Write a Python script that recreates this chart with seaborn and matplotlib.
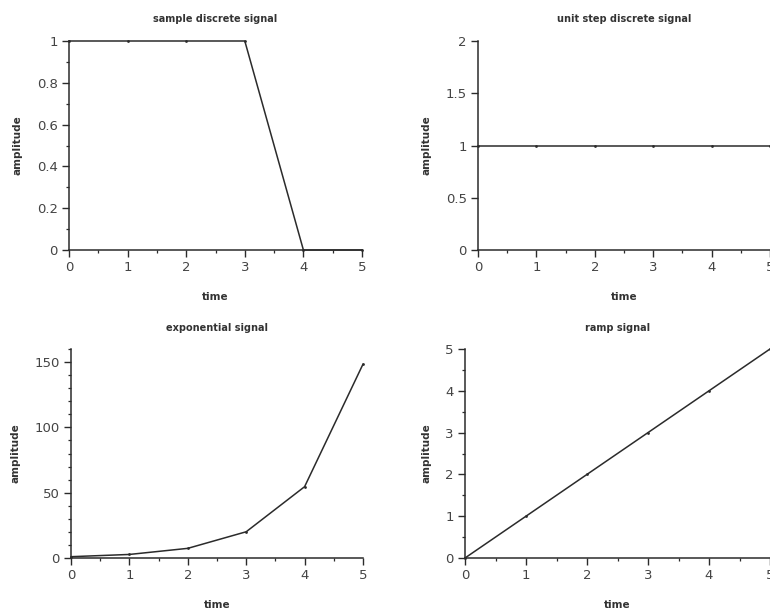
import matplotlib
matplotlib.use("Agg")
import matplotlib.pyplot as plt
import seaborn as sns
import pandas as pd
from matplotlib.ticker import MultipleLocator

time = [0, 1, 2, 3, 4, 5]
sample_discrete = [1, 1, 1, 1, 0, 0]
unit_step = [1, 1, 1, 1, 1, 1]
exponential = [1.0, 2.72, 7.39, 20.09, 54.6, 148.41]
ramp = [0, 1, 2, 3, 4, 5]

titles = ["sample discrete signal", "unit step discrete signal",
          "exponential signal", "ramp signal"]
xticks = [0, 1, 2, 3, 4, 5]

sns.set_style("ticks")
plt.rcParams['font.family'] = ['DejaVu Sans']

fig = plt.figure(figsize=(7.7, 6.13), dpi=100)

W, H = 770, 613
def rect(l, r, t, b):
    return [l / W, 1 - b / H, (r - l) / W, (b - t) / H]

specs = [
    (rect(69, 362, 41, 250), sample_discrete, (0, 1), 0.2, 0.1, 14),
    (rect(478, 770, 41, 250), unit_step, (0, 2), 0.5, None, 14),
    (rect(71, 363, 349, 558), exponential, (0, 160), 50, 10, 13),
    (rect(465, 770, 349, 558), ramp, (0, 5), 1, 0.5, 13),
]

col = "#2b2b2b"
for (r, vals, ylim, ymaj, ymin, tpad), title in zip(specs, titles):
    ax = fig.add_axes(r)
    df = pd.DataFrame({"time": time, "amplitude": vals})
    sns.lineplot(data=df, x="time", y="amplitude", ax=ax, color=col,
                 linewidth=1.1, marker="o", markersize=2, markeredgewidth=0)
    ax.set_xlim(0, 5)
    ax.set_ylim(*ylim)
    ax.set_xticks(xticks)
    ax.xaxis.set_minor_locator(MultipleLocator(0.5))
    ax.yaxis.set_major_locator(MultipleLocator(ymaj))
    if ymin:
        ax.yaxis.set_minor_locator(MultipleLocator(ymin))
    ax.yaxis.set_major_formatter(matplotlib.ticker.FuncFormatter(
        lambda v, p: ("%g" % v)))
    sns.despine(ax=ax)
    for s in ("left", "bottom"):
        ax.spines[s].set_color(col)
        ax.spines[s].set_linewidth(1.1)
    ax.tick_params(which="major", direction="out", length=5, width=1,
                   colors=col, labelsize=9.5, labelcolor="#444444", pad=3)
    ax.tick_params(which="minor", direction="out", length=2.5, width=0.9,
                   colors=col)
    ax.set_title(title, fontsize=7, fontweight="bold", color="#333333",
                 pad=tpad)
    ax.set_xlabel("time", fontsize=7.5, fontweight="bold", color="#333333",
                  labelpad=13)
    ax.set_ylabel("amplitude", fontsize=7.5, fontweight="bold",
                  color="#333333", labelpad=10)
    for l in ax.lines:
        l.set_clip_on(False)

fig.savefig("out.png", dpi=100)
